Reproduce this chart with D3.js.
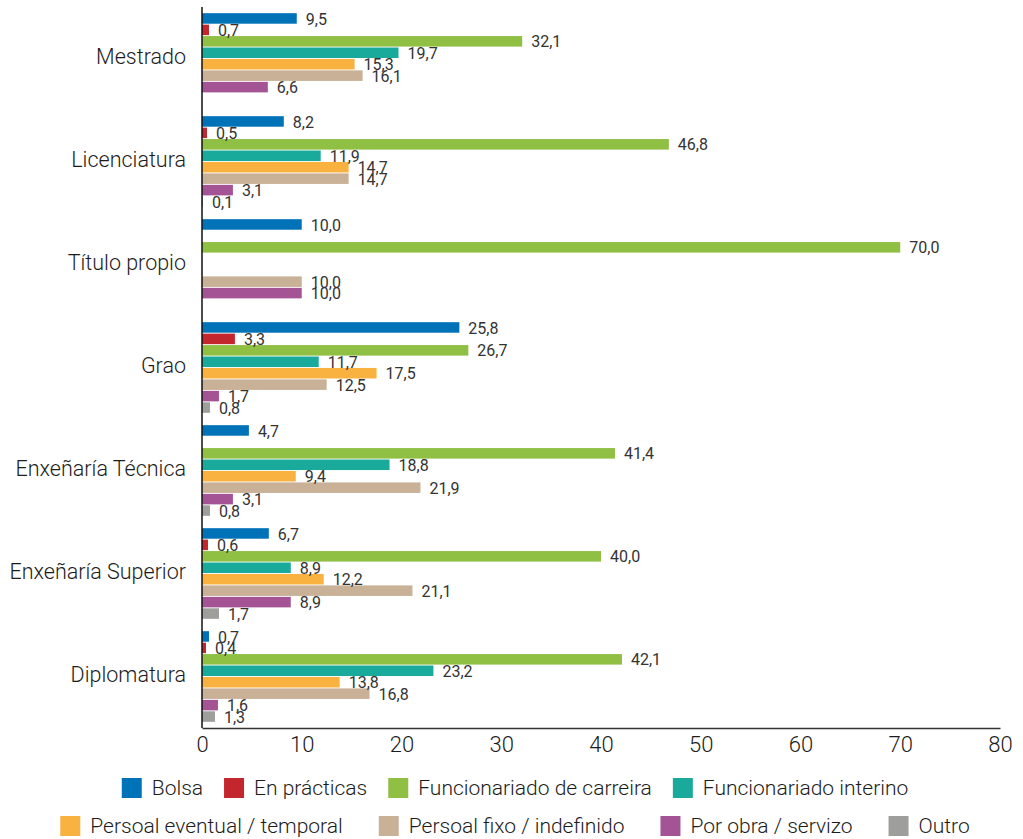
<!DOCTYPE html>
<html lang="gl">
<head>
<meta charset="utf-8">
<title>Situación laboral por titulación</title>
<style>
  body { margin: 0; background: #fff; }
  svg text { font-family: Roboto, "Noto Sans", sans-serif; font-weight: 300; fill: #1c1c1c; }
  .val { font-size: 16px; font-weight: 400; fill: #333; }
  .cat { font-size: 21.5px; }
  .tick text { font-size: 22px; }
  .leg { font-size: 21px; }
</style>
</head>
<body>
<div id="chart"></div>
<script src="https://cdn.jsdelivr.net/npm/d3@7"></script>
<script>
// categories (top to bottom)
const categories = ["Mestrado", "Licenciatura", "Título propio", "Grao",
  "Enxeñaría Técnica", "Enxeñaría Superior", "Diplomatura"];

const series = ["Bolsa", "En prácticas", "Funcionariado de carreira", "Funcionariado interino",
  "Persoal eventual / temporal", "Persoal fixo / indefinido", "Por obra / servizo", "Outro"];

const colors = ["#0072b8", "#c4262e", "#8fbf43", "#1aaa9b",
  "#f9b13f", "#c9b198", "#a45495", "#9e9e9a"];

// one array per series, in category order (null = no bar)
const bolsa        = [9.5, 8.2, 10.0, 25.8, 4.7, 6.7, 0.7];
const enPracticas  = [0.7, 0.5, null, 3.3, null, 0.6, 0.4];
const funcCarreira = [32.1, 46.8, 70.0, 26.7, 41.4, 40.0, 42.1];
const funcInterino = [19.7, 11.9, null, 11.7, 18.8, 8.9, 23.2];
const eventual     = [15.3, 14.7, null, 17.5, 9.4, 12.2, 13.8];
const fixo         = [16.1, 14.7, 10.0, 12.5, 21.9, 21.1, 16.8];
const porObra      = [6.6, 3.1, 10.0, 1.7, 3.1, 8.9, 1.6];
const outro        = [null, 0.1, null, 0.8, 0.8, 1.7, 1.3];

const xTicks = [0, 10, 20, 30, 40, 50, 60, 70, 80];

const values = [bolsa, enPracticas, funcCarreira, funcInterino, eventual, fixo, porObra, outro];

const rows = [];
series.forEach((s, si) => {
  values[si].forEach((v, ci) => {
    if (v !== null) rows.push({cat: categories[ci], series: s, si: si, value: v});
  });
});

const width = 1023, height = 839;
const plotLeft = 202, plotRight = 1000, plotTop = 7, plotBottom = 728;

const svg = d3.select('#chart').append('svg')
  .attr('width', width).attr('height', height);

const x = d3.scaleLinear().domain([0, 80]).range([plotLeft, plotRight]);
const y0 = d3.scaleBand().domain(categories).range([plotTop, plotBottom])
  .paddingInner(0.12).paddingOuter(0.06);
const y1 = d3.scaleBand().domain(series).range([0, y0.bandwidth()]).paddingInner(0.08);

const fmt = v => d3.format('.1f')(v).replace('.', ',');

// bars
svg.append('g').selectAll('rect')
  .data(rows)
  .join('rect')
    .attr('x', x(0))
    .attr('y', d => y0(d.cat) + y1(d.series))
    .attr('width', d => x(d.value) - x(0))
    .attr('height', y1.bandwidth())
    .attr('fill', d => colors[d.si]);

// value labels
svg.append('g').selectAll('text')
  .data(rows)
  .join('text')
    .attr('class', 'val')
    .attr('x', d => x(d.value) + 9)
    .attr('y', d => y0(d.cat) + y1(d.series) + y1.bandwidth() / 2)
    .attr('dy', '0.38em')
    .text(d => fmt(d.value));

// category labels
svg.append('g').selectAll('text')
  .data(categories)
  .join('text')
    .attr('class', 'cat')
    .attr('x', plotLeft - 16)
    .attr('y', d => y0(d) + y0.bandwidth() / 2 - 2)
    .attr('dy', '0.35em')
    .attr('text-anchor', 'end')
    .text(d => d);

// axes
const xAxis = svg.append('g')
  .attr('transform', `translate(0, ${plotBottom})`)
  .call(d3.axisBottom(x).tickValues(xTicks).tickSize(0).tickPadding(8).tickFormat(d3.format('d')));
xAxis.select('.domain').attr('stroke', '#333').attr('stroke-width', 1.5);
xAxis.attr('font-family', null).attr('font-size', null);

svg.append('line')
  .attr('x1', x(0)).attr('x2', x(0))
  .attr('y1', plotTop).attr('y2', plotBottom)
  .attr('stroke', '#111').attr('stroke-width', 1.5);

// legend, two centred rows
const legendRows = [
  {items: [0, 1, 2, 3], y: 788, gap: 21},
  {items: [4, 5, 6, 7], y: 826, gap: 36}
];
const sw = 20, swGap = 10, centre = 515;

legendRows.forEach(r => {
  const g = svg.append('g');
  const items = g.selectAll('g').data(r.items).join('g');
  items.append('rect')
    .attr('width', sw).attr('height', sw)
    .attr('y', r.y - 10)
    .attr('fill', i => colors[i]);
  items.append('text')
    .attr('class', 'leg')
    .attr('x', sw + swGap)
    .attr('y', r.y)
    .attr('dy', '0.35em')
    .text(i => series[i]);
  const widths = [];
  items.each(function () {
    widths.push(sw + swGap + this.querySelector('text').getComputedTextLength());
  });
  const total = d3.sum(widths) + r.gap * (widths.length - 1);
  let pos = centre - total / 2;
  items.attr('transform', (d, i) => {
    const t = `translate(${pos}, 0)`;
    pos += widths[i] + r.gap;
    return t;
  });
});
</script>
</body>
</html>
